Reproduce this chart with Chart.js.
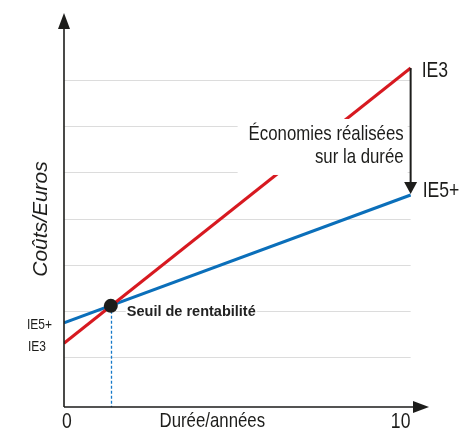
<!DOCTYPE html>
<html lang="fr">
<head>
<meta charset="UTF-8">
<title>Seuil de rentabilité IE3 / IE5+</title>
<script src="https://cdn.jsdelivr.net/npm/chart.js"></script>
<style>
  html, body { margin: 0; padding: 0; background: #fff; }
  #wrap { width: 461px; height: 429px; }
</style>
</head>
<body>
<div id="wrap"><canvas id="costChart" width="461" height="429"></canvas></div>
<script>
    // values (x = years, y = cost, arbitrary units)
    const years = [0, 10];
    const ie3Cost = [1.30, 7.26];
    const ie5Cost = [1.74, 4.51];
    const breakEven = [{ x: 1.35, y: 2.11 }];
    const gridValues = [1, 2, 3, 4, 5, 6, 7];
    const xTickLabels = ['0', '10'];

    const red = '#d71920';
    const blue = '#0b6fba';
    const ink = '#1d1d1b';
    const regular = '"Liberation Sans", Arial, sans-serif';
    const squeeze = 0.8; // no condensed face installed, so squeeze the regular one

    const toPoints = (xs, ys) => xs.map((x, i) => ({ x: x, y: ys[i] }));

    // draw text in a condensed look
    const narrowText = (ctx, text, x, y, size, align) => {
        ctx.save();
        ctx.font = size + 'px ' + regular;
        ctx.textAlign = align;
        ctx.translate(x, y);
        ctx.scale(squeeze, 1);
        ctx.fillText(text, 0, 0);
        ctx.restore();
    };

    const arrowHead = (ctx, x, y, dir, len, half) => {
        ctx.beginPath();
        if (dir === 'up') {
            ctx.moveTo(x, y); ctx.lineTo(x - half, y + len); ctx.lineTo(x + half, y + len);
        } else if (dir === 'down') {
            ctx.moveTo(x, y); ctx.lineTo(x - half, y - len); ctx.lineTo(x + half, y - len);
        } else {
            ctx.moveTo(x, y); ctx.lineTo(x - len, y - half); ctx.lineTo(x - len, y + half);
        }
        ctx.closePath();
        ctx.fill();
    };

    // grid lines + dashed drop line under the series
    const underlay = {
        id: 'underlay',
        beforeDatasetsDraw(chart) {
            const { ctx, scales: { x, y } } = chart;
            ctx.save();
            ctx.strokeStyle = '#dcdcdc';
            ctx.lineWidth = 1;
            gridValues.forEach(v => {
                const py = Math.round(y.getPixelForValue(v)) + 0.5;
                ctx.beginPath();
                ctx.moveTo(x.getPixelForValue(years[0]), py);
                ctx.lineTo(x.getPixelForValue(years[years.length - 1]), py);
                ctx.stroke();
            });
            const bx = Math.round(x.getPixelForValue(breakEven[0].x)) + 0.5;
            ctx.strokeStyle = '#1679c8';
            ctx.lineWidth = 1.3;
            ctx.setLineDash([3, 2]);
            ctx.beginPath();
            ctx.moveTo(bx, y.getPixelForValue(breakEven[0].y));
            ctx.lineTo(bx, y.bottom);
            ctx.stroke();
            ctx.restore();
        }
    };

    // axes, arrows and texts on top
    const overlay = {
        id: 'overlay',
        afterDatasetsDraw(chart) {
            const { ctx, chartArea: area, scales: { x, y } } = chart;
            const x0 = x.getPixelForValue(years[0]);
            const x10 = x.getPixelForValue(years[years.length - 1]);
            const yTop = y.getPixelForValue(ie3Cost[1]);
            const yLow = y.getPixelForValue(ie5Cost[1]);
            ctx.save();

            // axes
            ctx.strokeStyle = ink;
            ctx.fillStyle = ink;
            ctx.lineWidth = 1.6;
            ctx.beginPath();
            ctx.moveTo(x0, area.bottom);
            ctx.lineTo(x0, area.top + 10);
            ctx.moveTo(x0, area.bottom);
            ctx.lineTo(area.right - 10, area.bottom);
            ctx.stroke();
            arrowHead(ctx, x0, area.top, 'up', 16, 6);
            arrowHead(ctx, area.right, area.bottom, 'right', 16, 6);

            // white box behind the savings note
            ctx.fillStyle = '#fff';
            ctx.fillRect(x10 - 173, yTop + 51, 170, 56);

            // savings arrow
            ctx.strokeStyle = ink;
            ctx.fillStyle = ink;
            ctx.lineWidth = 2;
            ctx.beginPath();
            ctx.moveTo(x10, yTop);
            ctx.lineTo(x10, yLow - 10);
            ctx.stroke();
            arrowHead(ctx, x10, yLow - 1, 'down', 12, 6.5);

            ctx.fillStyle = ink;
            ctx.textBaseline = 'alphabetic';
            narrowText(ctx, 'Économies réalisées', x10 - 7, yTop + 72, 21, 'right');
            narrowText(ctx, 'sur la durée', x10 - 7, yTop + 95, 21, 'right');

            // series labels at the right end
            ctx.textBaseline = 'middle';
            narrowText(ctx, 'IE3', x10 + 11, yTop + 3, 22, 'left');
            narrowText(ctx, 'IE5+', x10 + 12, yLow - 4, 22, 'left');

            // series labels at the left start
            narrowText(ctx, 'IE5+', x0 - 37, y.getPixelForValue(ie5Cost[0]) + 2, 15, 'left');
            narrowText(ctx, 'IE3', x0 - 36, y.getPixelForValue(ie3Cost[0]) + 4, 15, 'left');

            // break-even label
            const bx = x.getPixelForValue(breakEven[0].x);
            const by = y.getPixelForValue(breakEven[0].y);
            ctx.font = 'bold 14.5px ' + regular;
            ctx.textAlign = 'left';
            const label = 'Seuil de rentabilité';
            const w = ctx.measureText(label).width;
            ctx.fillStyle = '#fff';
            ctx.fillRect(bx + 15, by - 1, w + 2, 12);
            ctx.fillStyle = '#222';
            ctx.fillText(label, bx + 16, by + 6);

            // x tick labels and axis title
            ctx.fillStyle = ink;
            ctx.textBaseline = 'alphabetic';
            narrowText(ctx, xTickLabels[0], x0 + 3, area.bottom + 21, 22, 'center');
            narrowText(ctx, xTickLabels[1], x10 - 10, area.bottom + 21, 22, 'center');
            narrowText(ctx, 'Durée/années', (x0 + x10) / 2 - 25, area.bottom + 20, 21, 'center');

            // y axis title
            ctx.translate(x0 - 17, (area.top + area.bottom) / 2 + 9);
            ctx.rotate(-Math.PI / 2);
            ctx.textAlign = 'center';
            ctx.font = 'italic 21px ' + regular;
            ctx.fillText('Coûts/Euros', 0, 0);
            ctx.restore();
        }
    };

    const ctx = document.getElementById('costChart').getContext('2d');
    const chart = new Chart(ctx, {
        type: 'line',
        data: {
            datasets: [{
                label: 'Seuil de rentabilité',
                data: breakEven,
                showLine: false,
                pointRadius: 7,
                pointBackgroundColor: ink,
                pointBorderWidth: 0
            }, {
                label: 'IE3',
                data: toPoints(years, ie3Cost),
                borderColor: red,
                borderWidth: 3,
                pointRadius: 0,
                fill: false
            }, {
                label: 'IE5+',
                data: toPoints(years, ie5Cost),
                borderColor: blue,
                borderWidth: 3,
                pointRadius: 0,
                fill: false
            }]
        },
        options: {
            responsive: false,
            animation: false,
            layout: { padding: { left: 64, right: 32, top: 13, bottom: 22 } },
            plugins: { legend: { display: false }, tooltip: { enabled: false } },
            scales: {
                x: { type: 'linear', min: 0, max: 10.53, display: false },
                y: { type: 'linear', min: -0.08, max: 8.45, display: false }
            }
        },
        plugins: [underlay, overlay]
    });
</script>
</body>
</html>
